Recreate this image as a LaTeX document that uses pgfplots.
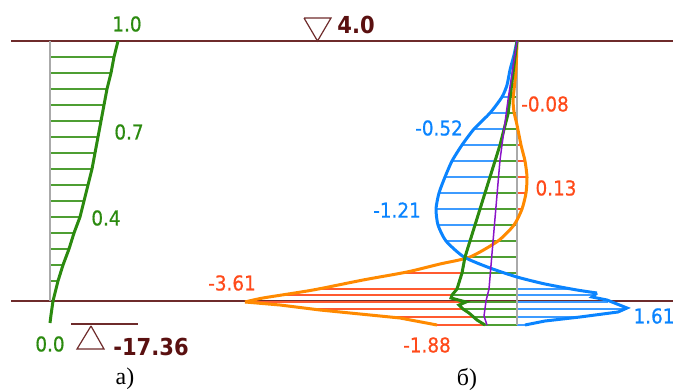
\documentclass[border=0pt]{standalone}
\usepackage{pgfplots}
\pgfplotsset{compat=1.18}
\usepackage{fontspec}
\setmainfont{DejaVu Sans Condensed}
\newfontfamily\labfont[FakeBold=0.7]{DejaVu Sans Condensed}
\newfontfamily\serif{Liberation Serif}
\definecolor{brn}{HTML}{6E2B2B}
\definecolor{brntxt}{HTML}{5A1010}
\definecolor{grn}{HTML}{2B8A0F}
\definecolor{grnh}{HTML}{4E9E33}
\definecolor{blu}{HTML}{0A84FF}
\definecolor{bluh}{HTML}{3D9BFF}
\definecolor{org}{HTML}{FF8A00}
\definecolor{orgh}{HTML}{FF5A30}
\definecolor{orgtxt}{HTML}{FF4A1A}
\definecolor{pur}{HTML}{8A14C8}
\definecolor{gry}{HTML}{AAAAAA}
\newcommand\lab{\fontsize{20.5}{21}\labfont}
\begin{document}
\begin{tikzpicture}
\begin{axis}[width=673bp,height=392bp,scale only axis,
  xmin=0,xmax=673,ymin=0,ymax=392,y dir=reverse,
  hide axis,clip=false,unbounded coords=jump]
% reference levels
\addplot[brn,line width=1.5bp] coordinates {(11,41) (673,41)};
\addplot[brn,line width=1.5bp] coordinates {(11,301) (673,301)};
% ---------------- panel a
\addplot[grnh,line width=1.4bp] coordinates {
(50,57) (114,57) (nan,nan) (50,73) (111,73) (nan,nan) (50,89) (107,89) (nan,nan)
(50,105) (104,105) (nan,nan) (50,121) (101,121) (nan,nan) (50,137) (98,137) (nan,nan)
(50,153) (95,153) (nan,nan) (50,169) (92,169) (nan,nan) (50,185) (88,185) (nan,nan)
(50,201) (84,201) (nan,nan) (50,217) (80,217) (nan,nan) (50,233) (74,233) (nan,nan)
(50,249) (69,249) (nan,nan) (50,265) (63,265) (nan,nan) (50,281) (58,281)};
\addplot[gry,line width=1.5bp] coordinates {(50,41) (50,301)};
\addplot[grn,line width=3bp] coordinates {
(118,41) (114,57) (111,73) (107,89) (104,105) (101,121) (98,137) (95,153) (92,169)
(88,185) (84,201) (80,217) (74,233) (69,249) (63,265) (58,281) (53,301) (51,315) (50,323)};
% ---------------- panel b hatches
\addplot[bluh,line width=1.4bp] coordinates {
(517,97) (502,97) (nan,nan) (517,113) (490,113) (nan,nan) (517,129) (474,129) (nan,nan)
(517,145) (462,145) (nan,nan) (517,161) (452,161) (nan,nan) (517,177) (445,177) (nan,nan)
(517,193) (439,193) (nan,nan) (517,209) (436,209) (nan,nan) (517,225) (438,225) (nan,nan)
(517,241) (446,241) (nan,nan) (517,257) (464,257) (nan,nan) (517,273) (505,273) (nan,nan)
(517,289) (572,289) (nan,nan) (517,295) (594,295) (nan,nan) (517,302) (608,302) (nan,nan)
(517,309) (625,309) (nan,nan) (517,317) (580,317) (nan,nan) (517,325) (525,325)};
\addplot[orgh,line width=1.4bp] coordinates {
(517,97) (513,97) (nan,nan) (517,113) (514,113) (nan,nan) (517,129) (518,129) (nan,nan)
(517,145) (521,145) (nan,nan) (517,161) (525,161) (nan,nan) (517,177) (527,177) (nan,nan)
(517,193) (526,193) (nan,nan) (517,209) (522,209) (nan,nan) (517,225) (514,225) (nan,nan)
(517,241) (498,241) (nan,nan) (517,257) (470,257) (nan,nan) (517,273) (401,273) (nan,nan)
(517,289) (318,289) (nan,nan) (517,295) (282,295) (nan,nan) (517,302) (245,302) (nan,nan)
(517,309) (312,309) (nan,nan) (517,317) (390,317) (nan,nan) (517,325) (437,325)};
\addplot[grnh,line width=1.4bp] coordinates {
(517,97) (510,97) (nan,nan) (517,113) (507,113) (nan,nan) (517,129) (503,129) (nan,nan)
(517,145) (499,145) (nan,nan) (517,161) (495,161) (nan,nan) (517,177) (490,177) (nan,nan)
(517,193) (485,193) (nan,nan) (517,209) (480,209) (nan,nan) (517,225) (475,225) (nan,nan)
(517,241) (470,241) (nan,nan) (517,257) (465,257) (nan,nan) (517,273) (462,273) (nan,nan)
(517,289) (457,289) (nan,nan) (517,295) (452,295) (nan,nan) (517,302) (466,302) (nan,nan)
(517,309) (463,309) (nan,nan) (517,317) (473,317) (nan,nan) (517,325) (485,325)};
\addplot[gry,line width=1.5bp] coordinates {(517,41) (517,325)};
% ---------------- panel b curves
\addplot[org,line width=3bp,smooth,tension=0.4] coordinates {
(517,41) (516,70) (514,90) (513,100) (514,112) (517,125) (521,145) (525,161) (527,177)
(526,193) (522,209) (514,225) (498,241) (470,257) (440,264) (407,272) (363,280) (313,290)
(263,298) (245,302)};
\addplot[org,line width=3bp] coordinates {(245,302) (280,305) (320,310) (360,314) (400,318) (437,325)};
\addplot[blu,line width=3bp,smooth,tension=0.4] coordinates {
(517,41) (514,55) (510,70) (507,85) (502,97) (490,113) (474,129) (462,145) (452,161)
(445,177) (439,193) (436,209) (438,225) (446,241) (464,257) (490,268) (517,277)
(545,284) (577,290) (597,293)};
\addplot[blu,line width=3bp] coordinates {
(597,293) (592,297) (607,300) (627,308) (618,312) (580,317) (545,321) (525,325)};
\addplot[grn,line width=3bp] coordinates {
(517,41) (508,114) (500,145) (490,177) (480,209) (470,241) (465,257) (462,273) (457,289)
(452,295) (451,298) (466,302) (459,305) (463,309) (469,313) (477,320) (485,325)};
\addplot[pur,line width=1.5bp] coordinates {
(517,41) (508,100) (500,160) (494,230) (489,289) (486,301) (484,316) (487,325)};
% ---------------- level symbols
\addplot[brn,line width=1.2bp] coordinates {(304,18) (331,18) (317.5,41) (304,18)};
\addplot[brn,line width=1.2bp] coordinates {(71,324) (138,324)};
\addplot[brn,line width=1.2bp] coordinates {(91,326) (77,349) (104,349) (91,326)};
% ---------------- labels
\node[text=grn,font=\lab] at (axis cs:127,24) {1.0};
\node[text=grn,font=\lab] at (axis cs:129,132) {0.7};
\node[text=grn,font=\lab] at (axis cs:106,218) {0.4};
\node[text=grn,font=\lab] at (axis cs:50,344) {0.0};
\node[text=brntxt,font=\fontsize{23.5}{24}\selectfont\bfseries] at (axis cs:151,347) {-17.36};
\node[text=brntxt,font=\fontsize{23.5}{24}\selectfont\bfseries] at (axis cs:356,25) {4.0};
\node[text=orgtxt,font=\lab] at (axis cs:545,104) {-0.08};
\node[text=blu,font=\lab] at (axis cs:439,128) {-0.52};
\node[text=orgtxt,font=\lab] at (axis cs:556,188) {0.13};
\node[text=blu,font=\lab] at (axis cs:397,210) {-1.21};
\node[text=orgtxt,font=\lab] at (axis cs:232,283) {-3.61};
\node[text=orgtxt,font=\lab] at (axis cs:427,345) {-1.88};
\node[text=blu,font=\lab] at (axis cs:654,316) {1.61};
\node[font=\fontsize{24}{25}\selectfont\serif] at (axis cs:125,379) {a)};
\node[font=\fontsize{24}{25}\selectfont\serif] at (axis cs:467,379) {б)};
\end{axis}
\pgfresetboundingbox
\path (0,0) rectangle (673bp,392bp);
\end{tikzpicture}
\end{document}
